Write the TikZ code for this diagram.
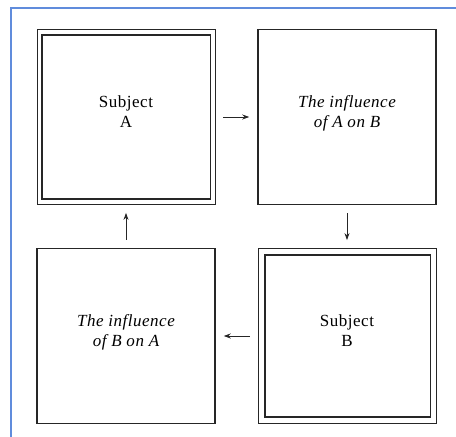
\documentclass[tikz,border=0pt]{standalone}
\usepackage{fontspec}
\setmainfont[LetterSpace=3]{Liberation Serif}
\usepackage{tikz}
\usetikzlibrary{arrows.meta,positioning}

\begin{document}
\begin{tikzpicture}[x=1pt, y=-1pt, node distance=219pt and 221pt, on grid,
    box/.style={draw=black!85, line width=1.5pt, minimum width=178pt, minimum height=175pt,
      align=center, text depth=10pt, font=\fontsize{17}{20}\selectfont},
    subject/.style={box, line width=0.8pt},
    inner frame/.style={draw=black!85, line width=1.8pt},
    flow/.style={-{Stealth[length=7pt,width=5pt]}, black!85, line width=0.9pt,
      shorten <=8pt, shorten >=8pt}]
  \useasboundingbox (0,0) rectangle (456,437);
  \draw[color={rgb,255:red,96;green,140;blue,220}, line width=1.4pt]
    (11,437) -- (11,8) -- (456,8);

  \node[subject] (subjA) at (126,117) {Subject\\A};
  \node[box, right=of subjA] (inflAB) {\itshape The influence\\\itshape of A on B};
  \node[subject, below=of inflAB] (subjB) {Subject\\B};
  \node[box, left=of subjB] (inflBA) {\itshape The influence\\\itshape of B on A};

  % inner lines of the double frames
  \draw[inner frame] ([xshift=5pt,yshift=-6pt]subjA.north west) rectangle ([xshift=-5pt,yshift=6pt]subjA.south east);
  \draw[inner frame] ([xshift=7pt,yshift=-7pt]subjB.north west) rectangle ([xshift=-6pt,yshift=7pt]subjB.south east);

  \draw[flow] (subjA) -- (inflAB);
  \draw[flow] (inflAB) -- (subjB);
  \draw[flow] (subjB) -- (inflBA);
  \draw[flow] (inflBA) -- (subjA);
\end{tikzpicture}
\end{document}
